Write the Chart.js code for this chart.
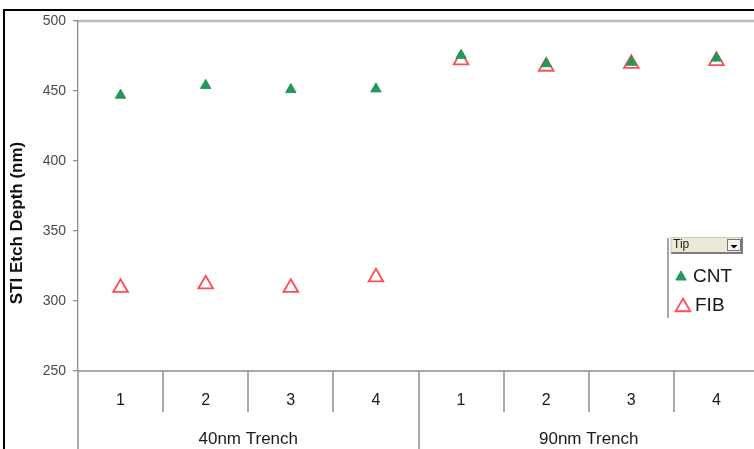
<!DOCTYPE html>
<html>
<head>
<meta charset="utf-8">
<script src="https://cdn.jsdelivr.net/npm/chart.js@4/dist/chart.umd.min.js"></script>
<style>
  html, body { margin: 0; padding: 0; background: #fff; overflow: hidden; width: 754px; height: 449px; }
  #wrap { position: relative; width: 772px; height: 449px; }
  canvas { display: block; }
</style>
</head>
<body>
<div id="wrap"><canvas id="c" width="772" height="449"></canvas></div>
<script>
// Run number within each trench width, and the trench groups they belong to
const runs = ['1', '2', '3', '4', '1', '2', '3', '4'];
const groups = ['40nm Trench', '90nm Trench'];
const runsPerGroup = 4;

// STI etch depth (nm) per run, by measurement tip
const cnt = [447, 454, 451, 451.5, 475.5, 469.5, 470.5, 473.5];
const fib = [309.5, 312, 309.5, 317, 472, 467.5, 469.5, 471.5];

const yTicks = [250, 300, 350, 400, 450, 500];
const yTitle = 'STI Etch Depth (nm)';
const legendTitle = 'Tip';
const seriesNames = ['CNT', 'FIB'];

const FONT = '"Liberation Sans", Arial, Helvetica, sans-serif';
const GREEN = '#23985a';
const RED = '#ff4f55';
const AXIS = '#8c8c8c';

const styleCNT = { pointStyle: 'triangle', radius: 6, backgroundColor: GREEN, borderColor: GREEN, borderWidth: 1 };
const styleFIB = { pointStyle: 'triangle', radius: 8.5, backgroundColor: 'rgba(255,255,255,0)', borderColor: RED, borderWidth: 1.8 };

function drawMarker(ctx, s, x, y) {
  ctx.save();
  ctx.fillStyle = s.backgroundColor;
  ctx.strokeStyle = s.borderColor;
  ctx.lineWidth = s.borderWidth;
  Chart.helpers.drawPoint(ctx, { pointStyle: s.pointStyle, radius: s.radius, borderWidth: s.borderWidth, rotation: 0 }, x, y);
  ctx.restore();
}

const frame = {
  id: 'frame',
  beforeDraw(chart) {
    const ctx = chart.ctx;
    ctx.save();
    ctx.fillStyle = '#fff';
    ctx.fillRect(0, 0, chart.width, chart.height);
    // outer black frame (left and top edges)
    ctx.fillStyle = '#000';
    ctx.fillRect(3, 9, 2, chart.height - 9);
    ctx.fillRect(3, 9, chart.width, 2);
    // plot area top edge
    const a = chart.chartArea;
    ctx.strokeStyle = '#bdbdbd';
    ctx.lineWidth = 2.4;
    ctx.beginPath();
    ctx.moveTo(a.left, a.top);
    ctx.lineTo(chart.width, a.top);
    ctx.stroke();
    ctx.restore();
  },
  afterDraw(chart) {
    const ctx = chart.ctx;
    const a = chart.chartArea;
    const xs = chart.scales.x;
    const n = runs.length;
    const step = xs.width / n;
    ctx.save();
    // category axis line
    ctx.strokeStyle = AXIS;
    ctx.lineWidth = 1.5;
    ctx.beginPath();
    ctx.moveTo(a.left, a.bottom);
    ctx.lineTo(chart.width, a.bottom);
    ctx.stroke();
    // dividers between runs and between groups
    for (let k = 0; k <= n; k++) {
      const x = Math.round(xs.left + k * step);
      const isGroup = k % runsPerGroup === 0;
      ctx.beginPath();
      ctx.moveTo(x, a.bottom);
      ctx.lineTo(x, isGroup ? chart.height : a.bottom + 41);
      ctx.stroke();
    }
    // run labels
    ctx.fillStyle = '#1a1a1a';
    ctx.textAlign = 'center';
    ctx.textBaseline = 'middle';
    ctx.font = '16px ' + FONT;
    runs.forEach((r, i) => ctx.fillText(r, xs.getPixelForValue(i), a.bottom + 30));
    // group labels
    ctx.font = '17px ' + FONT;
    groups.forEach((g, j) => {
      const cx = xs.left + (j * runsPerGroup + runsPerGroup / 2) * step;
      ctx.fillText(g, cx, a.bottom + 68);
    });
    // value axis title
    ctx.save();
    ctx.translate(17, 223);
    ctx.rotate(-Math.PI / 2);
    ctx.font = 'bold 17px ' + FONT;
    ctx.fillStyle = '#111';
    ctx.fillText(yTitle, 0, 0);
    ctx.restore();

    // legend with field button
    const lx = 671, ly = 237;
    ctx.fillStyle = '#ece9d8';
    ctx.fillRect(lx, ly, 71, 16);
    ctx.strokeStyle = '#555';
    ctx.lineWidth = 1.5;
    ctx.beginPath();
    ctx.moveTo(lx, ly + 16); ctx.lineTo(lx + 71, ly + 16); ctx.lineTo(lx + 71, ly);
    ctx.stroke();
    ctx.strokeStyle = '#cfcbb8';
    ctx.lineWidth = 1;
    ctx.beginPath();
    ctx.moveTo(lx, ly + 16); ctx.lineTo(lx, ly + 0.5); ctx.lineTo(lx + 71, ly + 0.5);
    ctx.stroke();
    // dropdown button
    ctx.fillStyle = '#f7f6f1';
    ctx.fillRect(lx + 56, ly + 2, 14, 12);
    ctx.strokeStyle = '#777';
    ctx.lineWidth = 1;
    ctx.strokeRect(lx + 56.5, ly + 2.5, 13, 11);
    ctx.fillStyle = '#000';
    ctx.beginPath();
    ctx.moveTo(lx + 59.5, ly + 8); ctx.lineTo(lx + 66.5, ly + 8); ctx.lineTo(lx + 63, ly + 11.5);
    ctx.closePath(); ctx.fill();
    ctx.font = '12px ' + FONT;
    ctx.fillStyle = '#222';
    ctx.textAlign = 'left';
    ctx.fillText(legendTitle, lx + 2, ly + 8);
    // left rule of legend
    ctx.strokeStyle = '#888';
    ctx.lineWidth = 1.5;
    ctx.beginPath();
    ctx.moveTo(668, ly + 1); ctx.lineTo(668, 318);
    ctx.stroke();
    // entries
    drawMarker(ctx, styleCNT, 681, 277);
    drawMarker(ctx, styleFIB, 683, 307);
    ctx.font = '19px ' + FONT;
    ctx.fillStyle = '#1a1a1a';
    ctx.fillText(seriesNames[0], 693, 277);
    ctx.fillText(seriesNames[1], 695, 306);
    ctx.restore();
  }
};

new Chart(document.getElementById('c'), {
  type: 'line',
  data: {
    labels: runs,
    datasets: [
      Object.assign({ label: seriesNames[0], data: cnt, showLine: false,
        pointRadius: styleCNT.radius, pointHoverRadius: styleCNT.radius,
        pointStyle: styleCNT.pointStyle, pointBackgroundColor: styleCNT.backgroundColor,
        pointBorderColor: styleCNT.borderColor, pointBorderWidth: styleCNT.borderWidth }),
      Object.assign({ label: seriesNames[1], data: fib, showLine: false,
        pointRadius: styleFIB.radius, pointHoverRadius: styleFIB.radius,
        pointStyle: styleFIB.pointStyle, pointBackgroundColor: styleFIB.backgroundColor,
        pointBorderColor: styleFIB.borderColor, pointBorderWidth: styleFIB.borderWidth })
    ]
  },
  options: {
    responsive: false,
    animation: false,
    devicePixelRatio: 1,
    layout: { padding: { left: 0, top: 21, right: 13, bottom: 78 } },
    plugins: { legend: { display: false }, tooltip: { enabled: false } },
    scales: {
      x: { type: 'category', offset: true, display: false },
      y: {
        min: 250, max: 500,
        afterBuildTicks: s => { s.ticks = yTicks.map(v => ({ value: v })); },
        afterFit: s => { s.width = 78; },
        grid: { drawOnChartArea: false, drawTicks: true, tickLength: 5, color: AXIS, lineWidth: 1.3 },
        border: { display: true, color: AXIS, width: 1.3 },
        ticks: { padding: 7, color: '#4a4a4a', font: { family: FONT, size: 14 } }
      }
    }
  },
  plugins: [frame]
});
</script>
</body>
</html>
